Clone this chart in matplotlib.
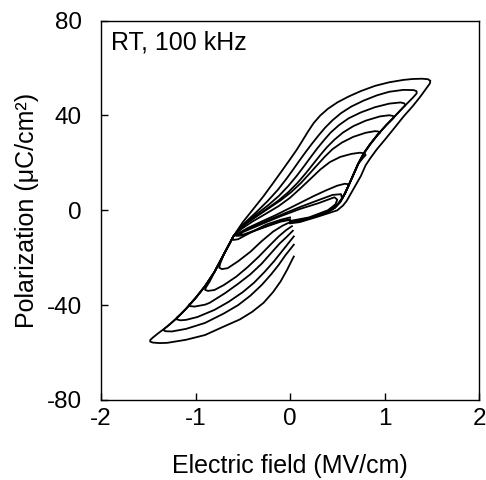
import matplotlib
matplotlib.use("Agg")
import matplotlib.pyplot as plt

plt.rcParams['font.family'] = ['Liberation Sans', 'DejaVu Sans']
plt.rcParams['axes.unicode_minus'] = False

# ---- data: each loop = rising branch, upper (decreasing E) branch, lower branch ----
E1 = [0.0, 0.1, 0.2, 0.3, 0.4, 0.5, 0.56, 0.6, 0.65, 0.7, 0.75, 0.8, 0.85, 0.92, 1.0, 1.1, 1.2, 1.3, 1.38, 1.44, 1.48,
      1.485, 1.46, 1.4, 1.3, 1.2, 1.05, 0.9, 0.75, 0.62, 0.5, 0.4, 0.32, 0.25, 0.19, 0.13, 0.07, 0.0, -0.08, -0.17,
      -0.28, -0.4, -0.5, -0.6,
      -0.7, -0.8, -0.9, -1.0, -1.1, -1.2, -1.3, -1.4, -1.45, -1.48, -1.48, -1.45, -1.38,
      -1.3, -1.1, -0.9, -0.7, -0.53, -0.4, -0.28, -0.18, -0.1, -0.03, 0.02, 0.04]
P1 = [-5.5, -5.0, -3.8, -2.6, -1.3, 0.0, 2.0, 4.0, 7.5, 11.0, 14.5, 19.0, 22.0, 25.8, 29.6, 34.5, 39.5, 44.0, 48.0, 51.3, 53.5,
      54.6, 55.3, 55.5, 55.4, 55.0, 54.0, 52.5, 50.3, 48.0, 45.5, 42.8, 40.0, 36.8, 33.2, 29.3, 25.5, 21.5, 17.0, 12.0,
      6.0, 0.0, -5.0, -11.0,
      -18.5, -26.0, -32.0, -37.0, -41.5, -45.5, -49.0, -52.0, -53.6, -54.7, -55.4, -55.8, -56.0,
      -55.9, -54.6, -52.6, -49.0, -46.0, -42.8, -39.0, -34.5, -30.0, -25.0, -21.0, -19.5]

E2 = [0.0, 0.1, 0.2, 0.3, 0.4, 0.47, 0.53, 0.58, 0.62, 0.67, 0.72, 0.78, 0.85, 0.93, 1.02, 1.1, 1.2, 1.3, 1.34,
      1.34, 1.31, 1.2, 1.05, 0.92, 0.78, 0.65, 0.54, 0.45, 0.37, 0.3, 0.23, 0.16, 0.1, 0.04, -0.04, -0.13, -0.24,
      -0.35, -0.45, -0.53, -0.6,
      -0.7, -0.8, -0.9, -1.0, -1.1, -1.2, -1.27, -1.32, -1.34, -1.32, -1.25,
      -1.1, -0.9, -0.7, -0.55, -0.42, -0.3, -0.2, -0.12, -0.05, 0.0, 0.04]
P2 = [-5.0, -4.5, -3.5, -2.2, -0.6, 1.0, 3.5, 7.0, 10.5, 15.0, 19.5, 24.0, 28.0, 32.0, 36.0, 39.3, 43.5, 47.5, 49.3,
      50.2, 50.7, 50.8, 50.0, 48.5, 46.3, 43.8, 41.0, 38.0, 34.8, 31.5, 28.0, 24.3, 21.0, 17.6, 13.2, 8.6, 3.8,
      -0.5, -4.2, -7.3, -11.0,
      -18.5, -26.0, -32.0, -37.0, -41.5, -45.5, -48.0, -49.6, -50.5, -51.0, -51.1,
      -50.0, -47.5, -43.5, -40.0, -36.0, -31.5, -27.0, -23.0, -19.0, -16.5, -14.5]

E3 = [0.0, 0.1, 0.2, 0.3, 0.4, 0.47, 0.53, 0.58, 0.62, 0.67, 0.72, 0.78, 0.85, 0.93, 1.02, 1.1, 1.2, 1.22,
      1.21, 1.17, 1.05, 0.9, 0.75, 0.62, 0.52, 0.43, 0.36, 0.29, 0.22, 0.15, 0.07, -0.02, -0.12, -0.23, -0.35,
      -0.45, -0.53, -0.6,
      -0.7, -0.8, -0.9, -1.0, -1.1, -1.16, -1.2, -1.2, -1.16, -1.1,
      -0.98, -0.8, -0.65, -0.5, -0.38, -0.27, -0.17, -0.09, -0.02, 0.04]
P3 = [-5.0, -4.5, -3.5, -2.2, -0.6, 1.0, 3.5, 7.0, 10.5, 15.0, 19.5, 24.0, 28.0, 32.0, 36.0, 39.3, 43.5, 44.3,
      45.1, 45.5, 45.0, 43.5, 41.3, 38.8, 36.0, 32.8, 29.6, 26.2, 22.5, 18.7, 14.5, 10.2, 6.0, 2.2, -1.5,
      -4.6, -7.6, -11.0,
      -18.5, -26.0, -32.0, -37.0, -41.5, -44.0, -45.3, -46.0, -46.4, -46.2,
      -45.0, -42.0, -38.6, -34.5, -30.5, -26.0, -21.5, -17.5, -14.0, -11.0]

E4 = [0.0, 0.1, 0.2, 0.3, 0.4, 0.47, 0.53, 0.58, 0.62, 0.67, 0.72, 0.78, 0.85, 0.93, 1.02, 1.08, 1.1,
      1.09, 1.05, 0.95, 0.8, 0.67, 0.56, 0.47, 0.39, 0.32, 0.25, 0.17, 0.08, -0.02, -0.13, -0.25, -0.37,
      -0.47, -0.54, -0.6,
      -0.7, -0.8, -0.9, -1.0, -1.04, -1.07, -1.06, -1.01, -0.9,
      -0.85, -0.69, -0.55, -0.42, -0.3, -0.2, -0.11, -0.03, 0.03]
P4 = [-5.0, -4.5, -3.5, -2.2, -0.6, 1.0, 3.5, 7.0, 10.5, 15.0, 19.5, 24.0, 28.0, 32.0, 36.0, 38.3, 39.2,
      39.8, 40.1, 39.6, 37.8, 35.5, 32.8, 29.8, 26.6, 23.3, 19.8, 15.8, 11.6, 7.6, 3.9, 0.5, -2.8,
      -5.6, -8.0, -11.0,
      -18.5, -26.0, -32.0, -37.0, -38.8, -39.8, -40.4, -40.6, -39.8,
      -39.0, -35.0, -31.0, -27.0, -22.5, -18.0, -14.0, -11.0, -8.6]

E5 = [0.0, 0.1, 0.2, 0.3, 0.4, 0.47, 0.53, 0.58, 0.62, 0.67, 0.72, 0.78, 0.85, 0.93, 0.95,
      0.94, 0.9, 0.8, 0.67, 0.55, 0.45, 0.37, 0.29, 0.2, 0.11, 0.01, -0.1, -0.22, -0.34, -0.45, -0.53, -0.6,
      -0.7, -0.8, -0.85, -0.89, -0.9, -0.87, -0.8,
      -0.7, -0.57, -0.45, -0.33, -0.22, -0.12, -0.04, 0.02]
P5 = [-5.0, -4.5, -3.5, -2.2, -0.6, 1.0, 3.5, 7.0, 10.5, 15.0, 19.5, 24.0, 28.0, 32.0, 32.6,
      33.2, 33.4, 32.7, 31.0, 28.6, 25.8, 22.7, 19.2, 15.2, 11.3, 7.6, 4.2, 1.0, -2.2, -5.2, -7.8, -11.0,
      -18.5, -26.0, -30.0, -32.5, -33.5, -34.0, -33.6,
      -31.5, -28.0, -24.0, -19.5, -15.0, -11.0, -8.3, -6.7]

E6 = [0.0, 0.1, 0.2, 0.3, 0.4, 0.47, 0.53, 0.58, 0.62, 0.67, 0.72, 0.78, 0.8,
      0.79, 0.74, 0.65, 0.53, 0.42, 0.32, 0.22, 0.1, 0.0, -0.12, -0.25, -0.4, -0.52, -0.6,
      -0.7, -0.74, -0.75, -0.72, -0.66,
      -0.55, -0.42, -0.3, -0.18, -0.08, 0.0]
P6 = [-5.0, -4.5, -3.5, -2.2, -0.6, 1.0, 3.5, 7.0, 10.5, 15.0, 19.5, 22.5, 23.3,
      24.0, 24.3, 23.8, 22.5, 20.3, 17.2, 13.4, 8.9, 5.3, 1.8, -1.3, -4.8, -8.0, -11.0,
      -18.5, -22.5, -24.2, -24.8, -24.4,
      -21.5, -17.5, -13.0, -9.0, -6.5, -5.0]

E7 = [0.0, 0.1, 0.2, 0.3, 0.4, 0.47, 0.53, 0.58, 0.62,
      0.62, 0.58, 0.5, 0.38, 0.25, 0.11, 0.0, -0.15, -0.3, -0.45, -0.6, -0.615, -0.6,
      -0.55, -0.4, -0.25, -0.1, 0.0]
P7 = [-5.0, -4.5, -3.5, -2.2, -0.6, 1.0, 3.5, 7.0, 10.5,
      11.0, 11.2, 10.4, 8.4, 6.0, 3.2, 1.0, -2.0, -4.7, -7.5, -11.0, -12.0, -12.5,
      -12.2, -9.0, -6.0, -4.0, -3.0]

E8 = [0.0, 0.2, 0.4, 0.48, 0.5, 0.47, 0.3, 0.1, -0.1, -0.3, -0.5, -0.53, -0.5, -0.3, -0.1, 0.0]
P8 = [-4.5, -3.0, 0.0, 2.5, 4.5, 5.5, 3.0, 0.5, -2.5, -5.8, -9.2, -10.0, -10.3, -7.5, -4.8, -4.0]

E9 = [0.0, 0.2, 0.4, 0.5, 0.55, 0.54, 0.45, 0.3, 0.1, -0.1, -0.3, -0.5, -0.57, -0.5, -0.3, -0.1, 0.0]
P9 = [-4.8, -3.3, -0.3, 2.5, 5.0, 6.8, 6.5, 4.3, 1.3, -2.0, -5.3, -8.8, -10.8, -10.6, -7.5, -4.5, -3.8]

loops_E = [E1, E2, E3, E4, E5, E6, E7, E8, E9]
loops_P = [P1, P2, P3, P4, P5, P6, P7, P8, P9]

xticks = [-2, -1, 0, 1, 2]
yticks = [-80, -40, 0, 40, 80]

fig = plt.figure(figsize=(4.86, 4.80), dpi=100)
ax = fig.add_axes([0.208, 0.1667, 0.7776, 0.7903])

for E, P in zip(loops_E, loops_P):
    ax.plot(E, P, color='black', lw=1.3, solid_joinstyle='round')

ax.set_xlim(-2, 2)
ax.set_ylim(-80, 80)
ax.set_xticks(xticks)
ax.set_yticks(yticks)
ax.set_xticklabels([str(t) for t in xticks])
ax.set_yticklabels([str(t) for t in yticks])
ax.tick_params(direction='in', length=5, width=1, labelsize=17.5, top=False, right=False)
ax.tick_params(axis='x', pad=6)
ax.tick_params(axis='y', pad=14)
for s in ax.spines.values():
    s.set_linewidth(1)

ax.set_xlabel('Electric field (MV/cm)', fontsize=18, labelpad=17)
ax.set_ylabel('Polarization (μC/cm²)', fontsize=18, labelpad=5)
ax.text(0.027, 0.923, 'RT, 100 kHz', transform=ax.transAxes, fontsize=18, va='baseline', ha='left')

fig.savefig('out.png', dpi=100)
